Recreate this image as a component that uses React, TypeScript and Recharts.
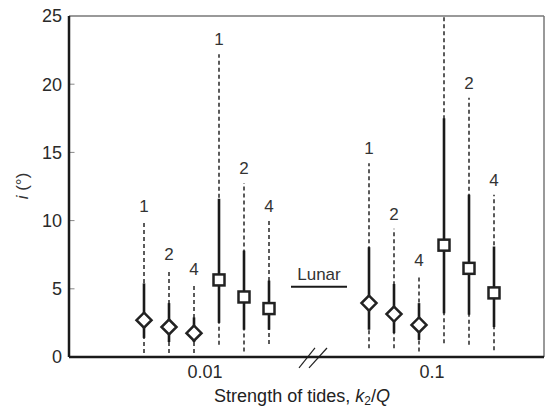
import React from 'react'
import {
  ComposedChart,
  Scatter,
  XAxis,
  YAxis,
  ReferenceLine,
  Label,
} from 'recharts'

// slot positions along the (broken) x axis, 0.01 group then 0.1 group
const slots = [3, 4, 5, 6, 7, 8, 12, 13, 14, 15, 16, 17]
const runLabels = ['1', '2', '4', '1', '2', '4', '1', '2', '4', '', '2', '4']
const markers = ['diamond', 'diamond', 'diamond', 'square', 'square', 'square', 'diamond', 'diamond', 'diamond', 'square', 'square', 'square']
const central = [2.7, 2.2, 1.75, 5.65, 4.4, 3.55, 3.95, 3.15, 2.35, 8.2, 6.5, 4.7]
const solidLow = [1.4, 1.1, 1.1, 2.5, 2.0, 2.0, 2.0, 1.75, 1.25, 3.2, 3.1, 2.2]
const solidHigh = [5.4, 3.95, 2.9, 11.6, 7.8, 5.6, 8.05, 5.35, 3.95, 17.5, 11.9, 8.1]
const dashLow = [0.3, 0.3, 0.3, 0.9, 0.4, 0.95, 0.65, 0.65, 0.4, 1.0, 0.9, 0.5]
const dashHigh = [10.0, 6.45, 5.35, 22.2, 12.75, 10.0, 14.2, 9.4, 6.0, 25, 19.0, 11.9]

const xTicks = [5.44, 14.52]
const xTickLabels = ['0.01', '0.1']
const yTicks = [0, 5, 10, 15, 20, 25]

const lunarIncl = 5.15
const lunarFrom = 8.88
const lunarTo = 11.12

const points = slots.map((x, i) => ({
  x,
  y: central[i],
  top: dashHigh[i],
  label: runLabels[i],
  marker: markers[i],
}))

const FONT = 'Liberation Sans, Arial, sans-serif'

function Marker(props: any) {
  const { cx, cy, payload } = props
  if (cx == null || cy == null) return null
  if (payload.marker === 'diamond') {
    const r = 7.5
    return (
      <path
        d={`M${cx},${cy - r}L${cx + r},${cy}L${cx},${cy + r}L${cx - r},${cy}Z`}
        fill="#fff"
        stroke="#222"
        strokeWidth={2.5}
      />
    )
  }
  const s = 11
  return <rect x={cx - s / 2} y={cy - s / 2} width={s} height={s} fill="#fff" stroke="#222" strokeWidth={2.5} />
}

function RunLabel(props: any) {
  const { cx, cy, payload } = props
  if (cx == null || cy == null || !payload.label) return null
  return (
    <text x={cx} y={cy - 9} textAnchor="middle" fontSize={17} fill="#333" fontFamily={FONT}>
      {payload.label}
    </text>
  )
}

export default function App() {
  return (
    <div style={{ position: 'absolute', left: 0, top: 0, background: '#fff' }}>
      <ComposedChart
        width={545}
        height={408}
        data={points}
        margin={{ top: 16, right: 1, left: 29, bottom: 21 }}
      >
        <XAxis
          type="number"
          dataKey="x"
          domain={[0, 19]}
          ticks={xTicks}
          tickFormatter={(v) => xTickLabels[xTicks.indexOf(v)] ?? ''}
          tickLine={false}
          tickSize={0}
          axisLine={{ stroke: '#1a1a1a', strokeWidth: 2.5 }}
          tick={{ fontSize: 18, fill: '#2a2a2a', fontFamily: FONT }}
          tickMargin={8}
          height={30}
          interval={0}
        >
          <Label
            content={() => (
              <text x={302} y={402} textAnchor="middle" fontSize={18} fill="#222" fontFamily={FONT}>
                Strength of tides, <tspan fontStyle="italic">k</tspan>
                <tspan fontSize={12} dy={3}>2</tspan>
                <tspan dy={-3}>/</tspan>
                <tspan fontStyle="italic">Q</tspan>
              </text>
            )}
          />
        </XAxis>
        <YAxis
          type="number"
          domain={[0, 25]}
          ticks={yTicks}
          tickLine={false}
          tickSize={0}
          axisLine={{ stroke: '#1a1a1a', strokeWidth: 2.5 }}
          tick={{ fontSize: 18, fill: '#2a2a2a', fontFamily: FONT }}
          tickMargin={7}
          width={40}
          interval={0}
        >
          <Label
            content={() => (
              <text
                x={28}
                y={186}
                transform="rotate(-90 28 186)"
                textAnchor="middle"
                fontSize={17}
                fill="#333"
                fontFamily={FONT}
              >
                <tspan fontStyle="italic">i</tspan> (°)
              </text>
            )}
          />
        </YAxis>

        {/* frame top and right */}
        <ReferenceLine y={25} stroke="#777" strokeWidth={1.5} />
        <ReferenceLine x={19} stroke="#777" strokeWidth={1.5} />

        {/* inward y ticks */}
        {yTicks.slice(1, -1).map((t) => (
          <ReferenceLine key={`yt${t}`} segment={[{ x: 0, y: t }, { x: 0.22, y: t }]} stroke="#888" strokeWidth={1} />
        ))}

        {/* axis break */}
        <ReferenceLine ifOverflow="visible" segment={[{ x: 9.2, y: -0.8 }, { x: 9.84, y: 0.66 }]} stroke="#222" strokeWidth={1.2} />
        <ReferenceLine ifOverflow="visible" segment={[{ x: 9.6, y: -0.8 }, { x: 10.32, y: 0.66 }]} stroke="#222" strokeWidth={1.2} />

        {/* dashed full ranges */}
        {slots.map((x, i) => (
          <ReferenceLine
            key={`d${i}`}
            segment={[{ x, y: dashLow[i] }, { x, y: dashHigh[i] }]}
            stroke="#333"
            strokeWidth={1.6}
            strokeDasharray="4 3"
          />
        ))}
        {/* solid core ranges */}
        {slots.map((x, i) => (
          <ReferenceLine
            key={`s${i}`}
            segment={[{ x, y: solidLow[i] }, { x, y: solidHigh[i] }]}
            stroke="#1a1a1a"
            strokeWidth={2.6}
          />
        ))}

        {/* lunar inclination */}
        <ReferenceLine
          segment={[{ x: lunarFrom, y: lunarIncl }, { x: lunarTo, y: lunarIncl }]}
          stroke="#1a1a1a"
          strokeWidth={2}
          label={{ value: 'Lunar', position: 'top', fontSize: 17, fill: '#333', fontFamily: FONT, offset: 7 }}
        />

        <Scatter dataKey="top" shape={RunLabel} isAnimationActive={false} />
        <Scatter dataKey="y" shape={Marker} isAnimationActive={false} />
      </ComposedChart>
    </div>
  )
}
